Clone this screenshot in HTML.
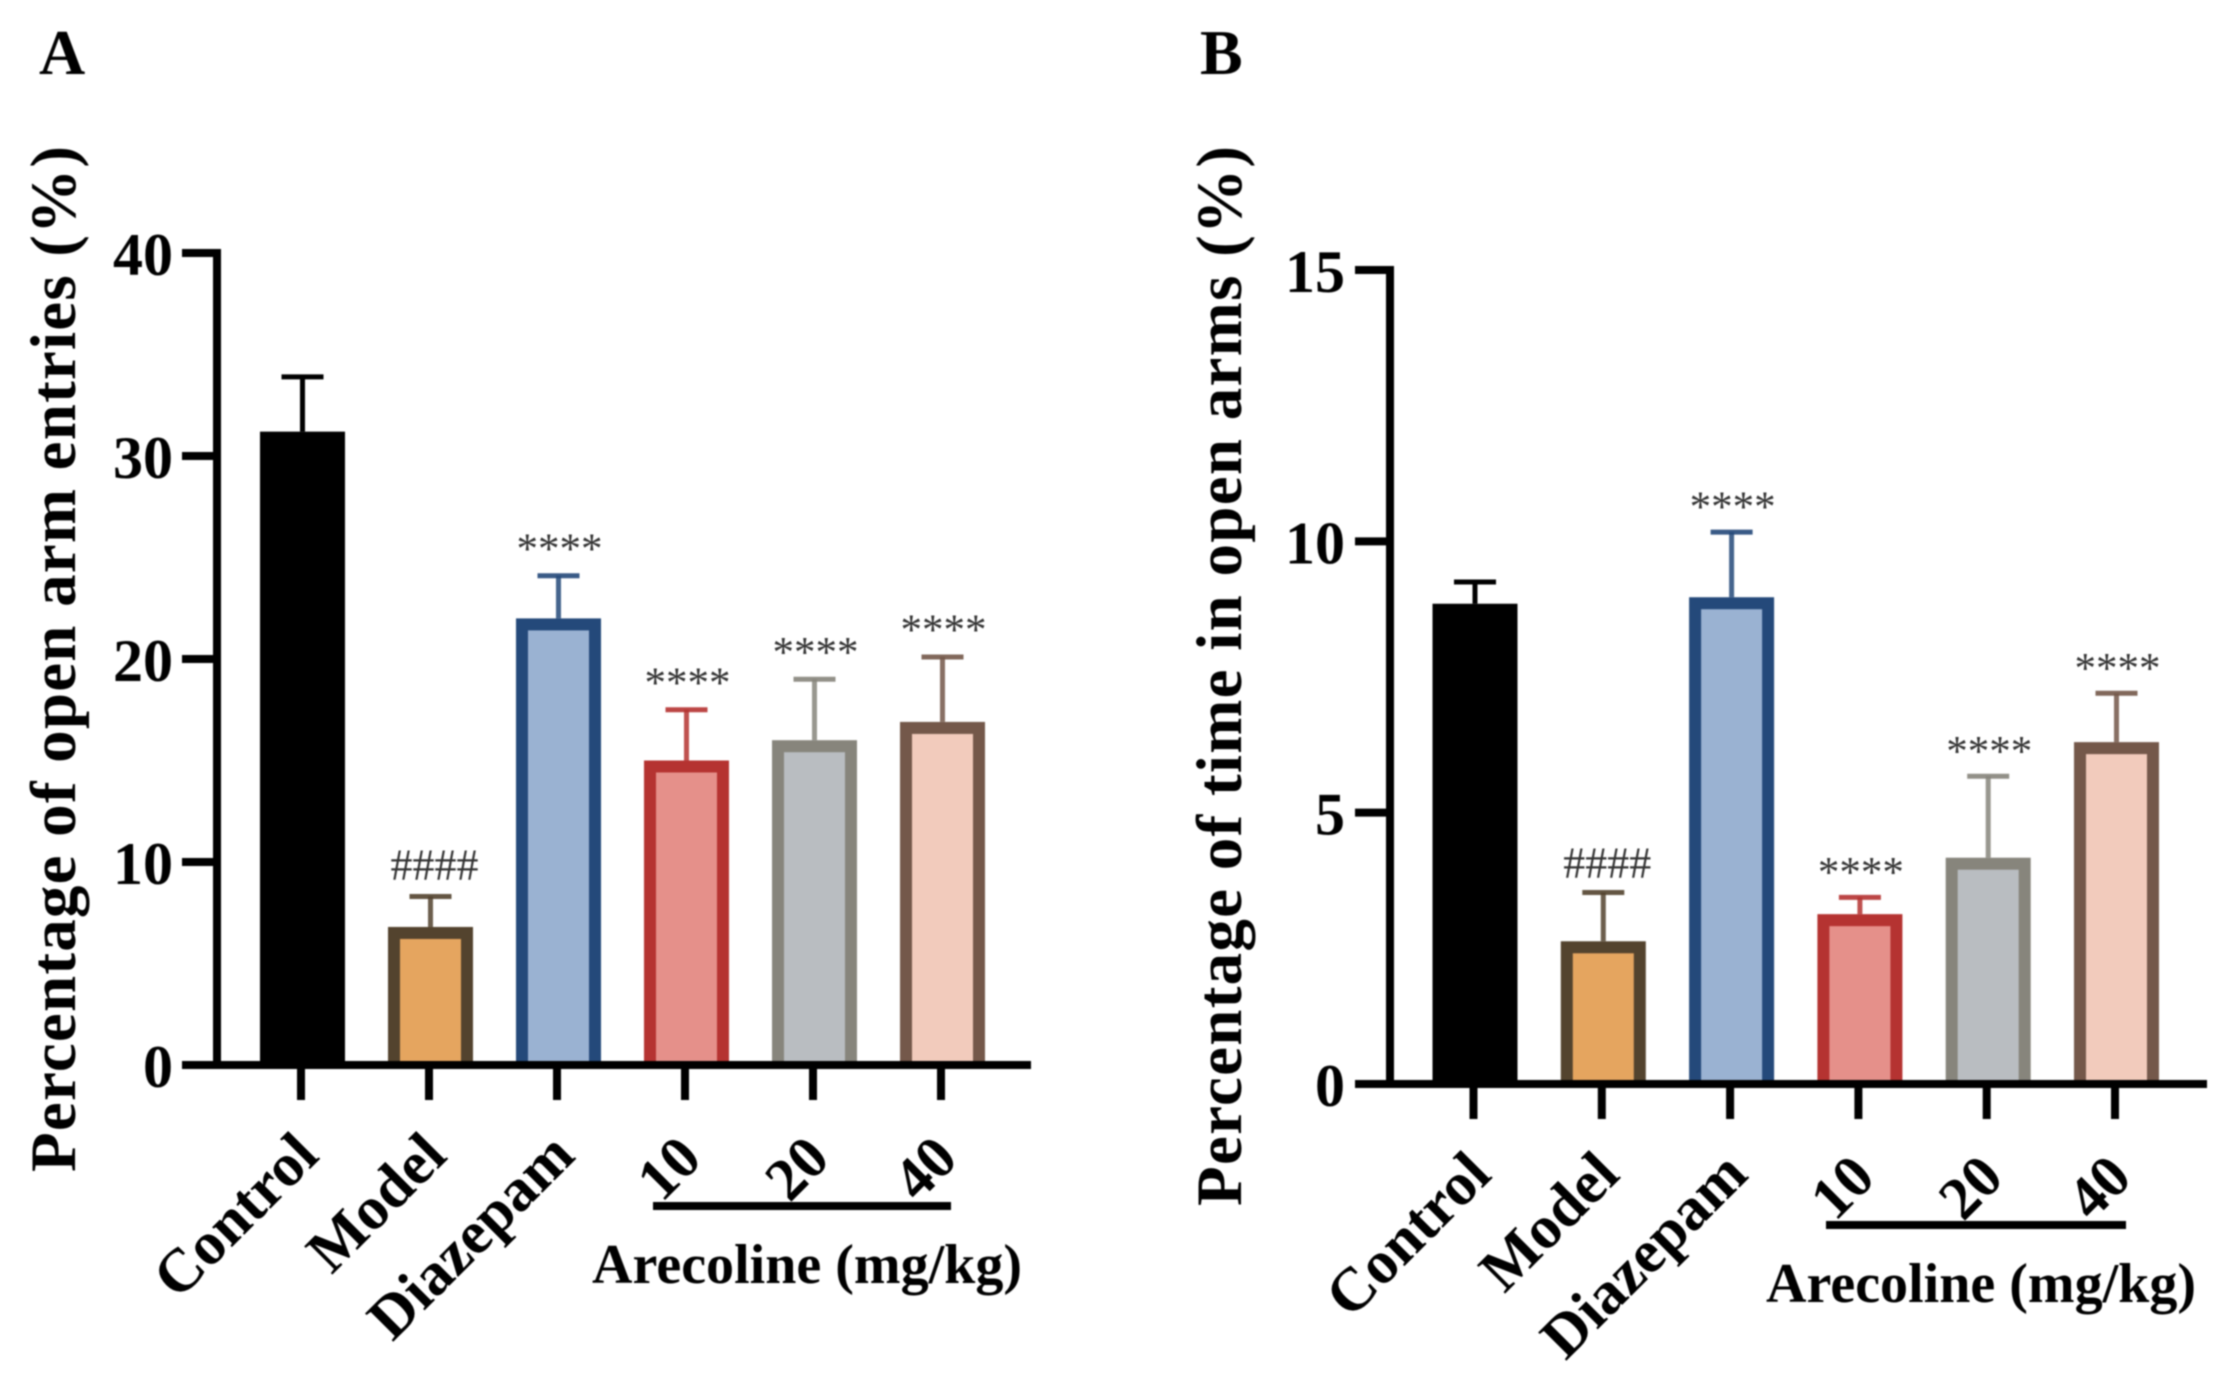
<!DOCTYPE html>
<html lang="en">
<head>
<meta charset="utf-8">
<title>Open arm entries and time in open arms</title>
<style>
html,body{margin:0;padding:0;background:#fff;width:2237px;height:1388px;overflow:hidden}
svg{display:block;filter:blur(0.8px)}
text{font-family:"Liberation Serif",serif;fill:#000}
</style>
</head>
<body>
<svg id="chart" xmlns="http://www.w3.org/2000/svg" width="2237" height="1388" viewBox="0 0 2237 1388">
  <rect width="2237" height="1388" fill="#fff"/>
</svg>
<script>
const categories = ['Control', 'Model', 'Diazepam', '10', '20', '40'];
const entriesValues = [31.2, 6.8, 22.0, 15.0, 16.0, 16.9];
const entriesErrors = [2.7, 1.5, 2.1, 2.5, 3.0, 3.2];
const entriesTicks = [0, 10, 20, 30, 40];
const timeValues = [8.85, 2.63, 8.97, 3.13, 4.17, 6.3];
const timeErrors = [0.4, 0.9, 1.2, 0.31, 1.5, 0.9];
const timeTicks = [0, 5, 10, 15];
const significance = ['', '####', '****', '****', '****', '****'];
const fillColors = ['#000000', '#e5a55f', '#9ab2d2', '#e5908a', '#b9bdc1', '#f2cbbc'];
const strokeColors = ['#000000', '#53432e', '#24497a', '#b53331', '#87857c', '#74584a'];

const svg = document.getElementById('chart');
const NS = 'http://www.w3.org/2000/svg';

function make(tag, attrs, parent) {
  const el = document.createElementNS(NS, tag);
  for (const k in attrs) el.setAttribute(k, attrs[k]);
  parent.appendChild(el);
  return el;
}

function drawPanel(p) {
  const g = make('g', {}, svg);
  
  

  const yMax = p.ticks[p.ticks.length - 1];
  const y = v => p.baseY - (v / yMax) * (p.baseY - p.topY);
  const x = i => p.firstX + i * p.step;
  const barCenter = i => x(i) + 1.5;
  const barW = 85, sw = 12;

  // bars + error bars
  p.values.forEach((v, i) => {
    const col = strokeColors[i];
    const cx = barCenter(i);
    const capY = y(v + p.errors[i]);

    const stem = make('line', {x1: cx, x2: cx, y1: y(v), y2: capY, stroke: col, 'stroke-width': 5, opacity: i === 0 ? 1 : 0.85}, g);
    
    

    const cap = make('line', {x1: cx - 21, x2: cx + 21, y1: capY, y2: capY, stroke: col, 'stroke-width': 5, opacity: i === 0 ? 1 : 0.9}, g);
    
    

    const bar = make('rect', {x: cx - barW / 2, y: y(v), width: barW, height: p.baseY - y(v), fill: col}, g);
    
    

    const inner = make('rect', {x: cx - barW / 2 + sw, y: y(v) + sw, width: barW - 2 * sw, height: Math.max(0, p.baseY - y(v) - sw), fill: fillColors[i]}, g);
    
    

    const mark = significance[i];
    if (mark) {
      const isHash = mark.charAt(0) === '#';
      const t = make('text', {
        x: isHash ? cx + 4 : cx + 1,
        y: capY - p.markGap + (isHash ? 16 : 20),
        'text-anchor': 'middle',
        'font-size': isHash ? 44 : 43
      }, g);
      t.style.fill = '#333';
      t.textContent = mark;
      
      
    }
  });

  // y axis
  const yAxis = make('line', {x1: p.axisX, x2: p.axisX, y1: y(yMax) - 4, y2: p.baseY + 4, stroke: '#000', 'stroke-width': 8}, g);
  
  

  p.ticks.forEach(t => {
    const tick = make('line', {x1: p.axisX - 35, x2: p.axisX + 4, y1: y(t), y2: y(t), stroke: '#000', 'stroke-width': 8}, g);
    
    

    const lab = make('text', {x: p.axisX - p.labelGap, y: y(t) + 22, 'text-anchor': 'end', 'font-size': 60, 'font-weight': 'bold'}, g);
    lab.textContent = t;
    
    
  });

  // x axis
  const xAxis = make('line', {x1: p.axisX - 35, x2: p.axisEnd, y1: p.baseY, y2: p.baseY, stroke: '#000', 'stroke-width': 8}, g);
  
  

  categories.forEach((c, i) => {
    const tick = make('line', {x1: x(i), x2: x(i), y1: p.baseY, y2: p.baseY + 35, stroke: '#000', 'stroke-width': 8}, g);
    
    

    const lx = x(i) + (i < 3 ? 20 : 19);
    const ly = p.baseY + (i < 3 ? 93 : 96);
    const lab = make('text', {
      x: lx, y: ly,
      transform: 'rotate(-45 ' + lx + ' ' + ly + ')',
      'text-anchor': 'end', 'font-size': i < 3 ? 61 : 60, 'font-weight': 'bold'
    }, g);
    lab.textContent = c;
    
    
  });

  // bracket + group label
  const bracket = make('line', {x1: p.bracket[0], x2: p.bracket[1], y1: p.baseY + 141, y2: p.baseY + 141, stroke: '#000', 'stroke-width': 8}, g);
  
  

  const grp = make('text', {x: p.groupX, y: p.baseY + 218, 'font-size': 56, 'font-weight': 'bold', textLength: 430, lengthAdjust: 'spacingAndGlyphs'}, g);
  grp.textContent = 'Arecoline (mg/kg)';
  
  

  // y title
  const title = make('text', {
    x: p.titleX, y: p.titleY,
    transform: 'rotate(-90 ' + p.titleX + ' ' + p.titleY + ')',
    'font-size': 65, 'font-weight': 'bold',
    textLength: p.titleLen, lengthAdjust: 'spacing'
  }, g);
  title.textContent = p.title;
  
  

  // panel letter
  const letter = make('text', {x: p.letterX, y: 74, 'font-size': 64, 'font-weight': 'bold'}, g);
  letter.textContent = p.letter;
  
  
}

drawPanel({
  name: 'panel-a', letter: 'A', letterX: 39, labelGap: 44,
  values: entriesValues, errors: entriesErrors, ticks: entriesTicks,
  title: 'Percentage of open arm entries (%)', titleX: 75, titleY: 1172, titleLen: 1026,
  axisX: 217, axisEnd: 1031, baseY: 1065, topY: 253,
  firstX: 301, step: 128, markGap: 33,
  bracket: [653, 951], groupX: 592
});

drawPanel({
  name: 'panel-b', letter: 'B', letterX: 1200, labelGap: 45,
  values: timeValues, errors: timeErrors, ticks: timeTicks,
  title: 'Percentage of time in open arms (%)', titleX: 1241, titleY: 1206, titleLen: 1060,
  axisX: 1390, axisEnd: 2207, baseY: 1084, topY: 270,
  firstX: 1473.5, step: 128.3, markGap: 31,
  bracket: [1826, 2126], groupX: 1766
});
</script>
</body>
</html>
